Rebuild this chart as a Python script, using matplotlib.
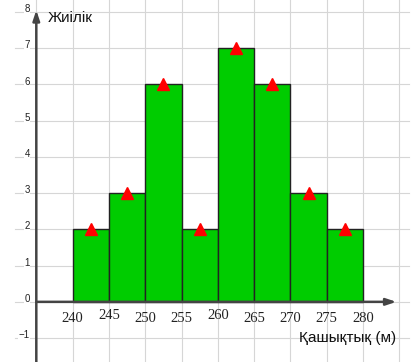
import matplotlib
matplotlib.use("Agg")
import matplotlib.pyplot as plt
import numpy as np

bin_edges = [240, 245, 250, 255, 260, 265, 270, 275, 280]
frequencies = [2, 3, 6, 2, 7, 6, 3, 2]
x_ticks = [240, 245, 250, 255, 260, 265, 270, 275, 280]
y_ticks = [-1, 0, 1, 2, 3, 4, 5, 6, 7, 8]
y_label = "Жиілік"
x_label = "Қашықтық (м)"

fig = plt.figure(figsize=(4.16, 3.62), dpi=100)
ax = fig.add_axes([0, 0, 1, 1])
ax.set_xlim(230.0, 287.3)
ax.set_ylim(-1.66, 8.33)
ax.axis("off")

grid_c = "#d6d6d6"
for gx in [235] + x_ticks + [285]:
    ax.plot([gx, gx], [-1.66, 8.33], color=grid_c, lw=0.8, zorder=0)
for gy in y_ticks:
    ax.plot([232.0, 286.3], [gy, gy], color=grid_c, lw=0.8, zorder=0)

widths = np.diff(bin_edges)
ax.bar(bin_edges[:-1], frequencies, width=widths, align="edge",
       color="#00cc00", edgecolor="#222222", linewidth=1.0, zorder=2)
mids = [(a + b) / 2 for a, b in zip(bin_edges[:-1], bin_edges[1:])]
ax.plot(mids, frequencies, linestyle="none", marker="^", color="#ff0000",
        markersize=9, zorder=4, clip_on=False)

axis_c = "#444444"
ax.annotate("", xy=(284.6, 0), xytext=(235, 0),
            arrowprops=dict(arrowstyle="-|>,head_length=0.6,head_width=0.2",
                            color=axis_c, lw=1.8, shrinkA=0, shrinkB=0), zorder=3)
ax.annotate("", xy=(235, 8.05), xytext=(235, -1.66),
            arrowprops=dict(arrowstyle="-|>,head_length=0.6,head_width=0.2",
                            color=axis_c, lw=1.8, shrinkA=0, shrinkB=0), zorder=3)

for i, t in enumerate(x_ticks):
    dy = 0.06 if t in (245, 260) else 0.0
    ax.text(t, -0.45 + dy, str(t), ha="center", va="center",
            fontsize=10.5, family="Liberation Serif", color="#222222", zorder=5)
for t in y_ticks:
    lab = "\u22121" if t < 0 else str(t)
    ax.text(234.1, t + 0.08, lab, ha="right", va="center", fontsize=7,
            family="Liberation Sans", color="#222222", zorder=5,
            bbox=dict(facecolor="white", edgecolor="none", pad=0.2))

ax.text(236.6, 7.82, y_label, ha="left", va="center", fontsize=11,
        family="Liberation Sans", color="#111111", zorder=5)
ax.text(284.6, -1.0, x_label, ha="right", va="center", fontsize=11,
        family="Liberation Sans", color="#111111", zorder=5)

fig.savefig("out.png", dpi=100)
